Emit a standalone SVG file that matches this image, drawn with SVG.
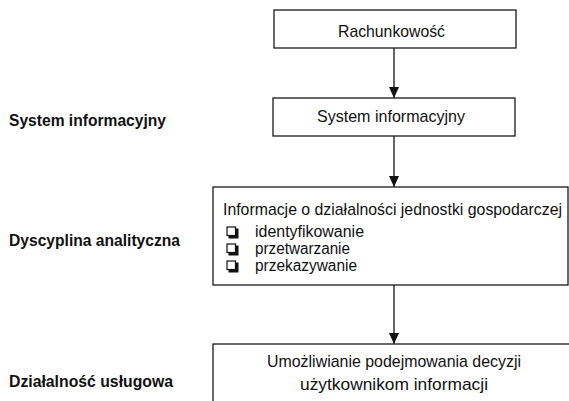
<svg xmlns="http://www.w3.org/2000/svg" width="569" height="401" viewBox="0 0 569 401">
<style>
.box{fill:#fff;stroke:#1a1a1a;stroke-width:1.3}
.t{font-family:"Liberation Sans Narrow","Liberation Sans",Arial,sans-serif;font-size:17px;fill:#111}
.s{font-family:"Liberation Sans Narrow","Liberation Sans",Arial,sans-serif;font-size:16px;fill:#111}
.b{font-family:"Liberation Sans Narrow","Liberation Sans",Arial,sans-serif;font-size:17px;font-weight:bold;fill:#111}
.c{stroke:#111;stroke-width:1.3;fill:none}
.cb{fill:#fff;stroke:#111;stroke-width:1.2}
.sh{fill:#111}
</style>
<defs>
<marker id="ah" markerWidth="12" markerHeight="10" refX="11" refY="5" orient="auto" markerUnits="userSpaceOnUse" viewBox="0 0 12 10">
<path d="M0,0 L11,5 L0,10 Z" fill="#111"/>
</marker>
</defs>
<rect width="569" height="401" fill="#fff"/>
<g id="labels">
<text class="b" x="9" y="126" textLength="157" lengthAdjust="spacingAndGlyphs">System informacyjny</text>
<text class="b" x="9" y="246" textLength="171" lengthAdjust="spacingAndGlyphs">Dyscyplina analityczna</text>
<text class="b" x="9" y="387" textLength="164" lengthAdjust="spacingAndGlyphs">Działalność usługowa</text>
</g>
<g id="connectors">
<line class="c" x1="394" y1="48" x2="394" y2="98" marker-end="url(#ah)"/>
<line class="c" x1="394" y1="136" x2="394" y2="187" marker-end="url(#ah)"/>
<line class="c" x1="394" y1="285" x2="394" y2="344" marker-end="url(#ah)"/>
</g>
<g id="rachunkowosc">
<rect class="box" x="274" y="10" width="242" height="38"/>
<text class="t" x="338" y="37" textLength="107" lengthAdjust="spacingAndGlyphs">Rachunkowość</text>
</g>
<g id="system">
<rect class="box" x="273" y="98" width="242" height="38"/>
<text class="t" x="317" y="122" textLength="148" lengthAdjust="spacingAndGlyphs">System informacyjny</text>
</g>
<g id="informacje">
<rect class="box" x="213" y="187" width="355" height="98"/>
<text class="t" x="223" y="215" font-size="14.5" textLength="339" lengthAdjust="spacingAndGlyphs">Informacje o działalności jednostki gospodarczej</text>
<rect class="sh" x="228.5" y="228.5" width="10" height="10"/><rect class="cb" x="227" y="227" width="8.5" height="8.5"/>
<text class="s" x="255" y="237" textLength="109" lengthAdjust="spacingAndGlyphs">identyfikowanie</text>
<rect class="sh" x="228.5" y="245.5" width="10" height="10"/><rect class="cb" x="227" y="244" width="8.5" height="8.5"/>
<text class="s" x="255" y="254" textLength="95" lengthAdjust="spacingAndGlyphs">przetwarzanie</text>
<rect class="sh" x="228.5" y="262.5" width="10" height="10"/><rect class="cb" x="227" y="261" width="8.5" height="8.5"/>
<text class="s" x="255" y="271" textLength="102" lengthAdjust="spacingAndGlyphs">przekazywanie</text>
</g>
<g id="decyzje">
<rect class="box" x="213" y="344" width="370" height="70"/>
<text class="t" x="267" y="367" textLength="254" lengthAdjust="spacingAndGlyphs">Umożliwianie podejmowania decyzji</text>
<text class="t" x="300" y="390" textLength="188" lengthAdjust="spacingAndGlyphs">użytkownikom informacji</text>
</g>
</svg>
